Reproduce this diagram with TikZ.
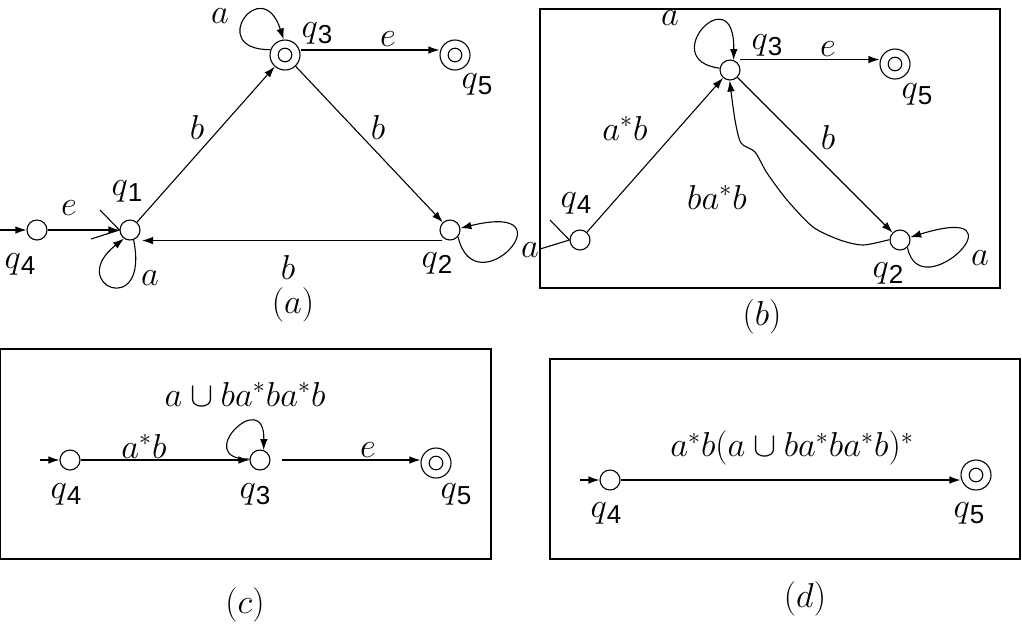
\documentclass[tikz,border=0pt]{standalone}
\usepackage{fontspec}
\newfontfamily\arialf{Liberation Sans}
\usetikzlibrary{arrows.meta}
\newcommand\qlab[1]{$q$\raisebox{-3pt}{\fontsize{13}{14}\selectfont\arialf #1}}
\begin{document}
\begin{tikzpicture}[x=0.5pt,y=-0.5pt,line width=0.55pt,
  every node/.style={font=\fontsize{17.28}{20}\selectfont},
  st/.style={circle,draw,minimum size=10pt,inner sep=0pt},
  acc/.style={circle,draw,minimum size=15pt,inner sep=0pt,
    path picture={\draw (path picture bounding box.center) circle[radius=3.4pt];}},
  arr/.style={-{Latex[length=5.5pt,width=3.8pt]}},
  lbl/.style={inner sep=0pt}]
\useasboundingbox (0,0) rectangle (1022,623);

% ---------------- (a)
\node[st] (a4) at (37,230) {};
\node[st] (a1) at (130,230) {};
\node[acc] (a3) at (285,55) {};
\node[acc] (a5) at (455,55) {};
\node[st] (a2) at (450,230) {};
\coordinate (a0) at (0,230);
\coordinate (t1) at (100,210);
\coordinate (t2) at (91,239);
\draw[arr] (a0) -- (a4);
\draw[arr] (a4) -- (a1);
\draw (t1) -- (a1.west);
\draw (t2) -- (a1.west);
\draw[arr] (a1) -- (a3);
\draw[arr] (a3) -- (a2);
\draw[arr] ([yshift=2.5pt]a3.east) -- ([yshift=2.5pt]a5.west);
\draw[arr] ([xshift=-4pt]a2.south) -- ([xshift=6pt]a1.south);
\draw[arr] (a1.-70) .. controls (150,320) and (65,285) .. (a1.-125);
\draw[arr] (a3.160) .. controls (205,50) and (262,-28) .. (a3.95);
\draw[arr] (a2.-40) .. controls (475,310) and (575,200) .. (a2.10);
\node[lbl] (la1) at (69,208) {$e$};
\node[lbl] (la2) at (197,127) {$b$};
\node[lbl] (la3) at (127,191) {\qlab1};
\node[lbl] (la4) at (20,264) {\qlab4};
\node[lbl] (la5) at (220,16) {$a$};
\node[lbl] (la6) at (150,278) {$a$};
\node[lbl] (la7) at (288,267) {$b$};
\node[lbl] (la8) at (293,305) {$(a)$};
\node[lbl] (la9) at (317,33) {\qlab3};
\node[lbl] (la10) at (388,39) {$e$};
\node[lbl] (la11) at (477,84) {\qlab5};
\node[lbl] (la12) at (378,127) {$b$};
\node[lbl] (la13) at (437,263) {\qlab2};

% ---------------- (b)
\draw (540,9) rectangle (1000,288);
\node[st] (b3) at (730,70) {};
\node[acc] (b5) at (895,64) {};
\node[st] (b4) at (580,240) {};
\node[st] (b2) at (900,240) {};
\coordinate (t3) at (550,220);
\coordinate (t4) at (540,249);
\draw (t3) -- (b4.west);
\draw (t4) -- (b4.west);
\draw[arr] (b4) -- (b3);
\draw[arr] (b3) -- (b2);
\draw[arr] ([xshift=1.5pt,yshift=1.5pt]b3.north east) -- ([yshift=1.5pt]b3.north east -| b5.west);
\draw[arr] (b3.170) .. controls (655,60) and (735,-25) .. (b3.70);
\draw[arr] (b2.-45) .. controls (920,310) and (1030,200) .. (b2.15);
\draw[arr] plot[smooth,tension=0.45] coordinates {(b2.178) (863,245) (840,240) (813,227) (787,200) (767,173) (755,152) (741,143) (735,120) (b3.-92)};
\node[lbl] (lb1) at (670,18) {$a$};
\node[lbl] (lb2) at (767,45) {\qlab3};
\node[lbl] (lb3) at (828,49) {$e$};
\node[lbl] (lb4) at (917,94) {\qlab5};
\node[lbl] (lb5) at (625,128) {$a^*b$};
\node[lbl] (lb6) at (828,137) {$b$};
\node[lbl] (lb7) at (576,203) {\qlab4};
\node[lbl] (lb8) at (717,197) {$ba^*b$};
\node[lbl] (lb9) at (530,250) {$a$};
\node[lbl] (lb10) at (888,273) {\qlab2};
\node[lbl] (lb11) at (980,258) {$a$};
\node[lbl] (lb12) at (762,317) {$(b)$};

% ---------------- (c)
\draw (0.5,349) rectangle (491,559);
\node[st] (c4) at (70,460) {};
\node[st] (c3) at (260,460) {};
\node[acc] (c5) at (436,463) {};
\coordinate (c0) at (40,460);
\draw[arr] (c0) -- (c4);
\draw[arr] (c4) -- (c3);
\draw[arr] ([xshift=5.5pt]c3.east) -- (c3.east -| c5.west);
\draw[arr] (c3.175) .. controls (190,460) and (265,385) .. (c3.70);
\node[lbl] (lc1) at (245,394) {$a\cup ba^*ba^*b$};
\node[lbl] (lc2) at (144,446) {$a^*b$};
\node[lbl] (lc3) at (368,450) {$e$};
\node[lbl] (lc4) at (66,494) {\qlab4};
\node[lbl] (lc5) at (255,494) {\qlab3};
\node[lbl] (lc6) at (456,494) {\qlab5};
\node[lbl] (lc7) at (245,605) {$(c)$};

% ---------------- (d)
\draw (550,359) rectangle (1020,559);
\node[st] (d4) at (610,480) {};
\node[acc] (d5) at (976,475) {};
\coordinate (d0) at (580,480);
\draw[arr] (d0) -- (d4);
\draw[arr] (d4) -- (d4 -| d5.west);
\node[lbl] (ld1) at (792,448) {$a^*b(a\cup ba^*ba^*b)^*$};
\node[lbl] (ld2) at (606,513) {\qlab4};
\node[lbl] (ld3) at (969,513) {\qlab5};
\node[lbl] (ld4) at (805,599) {$(d)$};
\end{tikzpicture}
\end{document}
